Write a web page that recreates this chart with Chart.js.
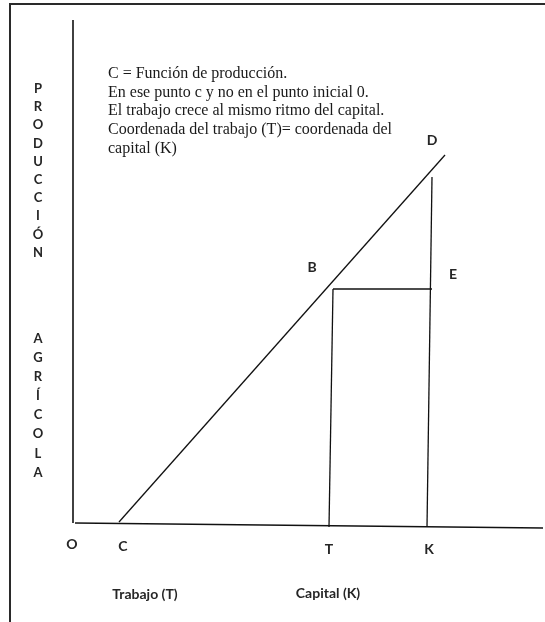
<!DOCTYPE html>
<html>
<head>
<meta charset="utf-8">
<script src="https://cdn.jsdelivr.net/npm/chart.js@4/dist/chart.umd.min.js"></script>
<style>
  html, body { margin: 0; padding: 0; background: #fff; }
  #wrap { position: relative; width: 545px; height: 622px; overflow: hidden; }
  #frame { position: absolute; left: 9px; top: 3px; width: 600px; height: 700px;
           border-top: 2px solid #2a2a2a; border-left: 2px solid #2a2a2a; }
  canvas { position: absolute; left: 0; top: 0; }
  .lbl { position: absolute; transform: translate(-50%, -50%); font-family: Lato, sans-serif;
         font-weight: 700; font-size: 14px; color: #262626; white-space: nowrap; }
  .vert { position: absolute; width: 20px; text-align: center; font-family: Lato, sans-serif;
          font-weight: 700; font-size: 13px; color: #262626; }
  #note { position: absolute; left: 108px; top: 64px; font-family: "Liberation Serif", "Times New Roman", serif;
          font-size: 16px; line-height: 18.7px; color: #1a1a1a; }
</style>
</head>
<body>
<div id="wrap">
  <div id="frame"></div>
  <canvas id="chart" width="545" height="622"></canvas>
  <div id="note">C = Función de producción.<br>En ese punto c y no en el punto inicial 0.<br>El trabajo crece al mismo ritmo del capital.<br>Coordenada del trabajo (T)= coordenada del<br>capital (K)</div>
  <div class="vert" style="left:28px; top:79px; line-height:18.2px;">P<br>R<br>O<br>D<br>U<br>C<br>C<br>I<br>Ó<br>N</div>
  <div class="vert" style="left:28px; top:329px; line-height:19.1px;">A<br>G<br>R<br>Í<br>C<br>O<br>L<br>A</div>
  <div class="lbl" style="left:72px; top:543px;">O</div>
  <div class="lbl" style="left:123px; top:545px;">C</div>
  <div class="lbl" style="left:329px; top:548px;">T</div>
  <div class="lbl" style="left:429px; top:548px;">K</div>
  <div class="lbl" style="left:432px; top:139px;">D</div>
  <div class="lbl" style="left:312px; top:266px;">B</div>
  <div class="lbl" style="left:453px; top:273px;">E</div>
  <div class="lbl" style="left:145px; top:593px;">Trabajo (T)</div>
  <div class="lbl" style="left:328px; top:592px;">Capital (K)</div>
</div>
<script>
// diagram coordinates (1 unit ~ 10px), origin where the axes meet
const axisY = [{x: 0, y: 0}, {x: 0, y: 50.3}];
const axisX = [{x: 0.2, y: 0}, {x: 47.0, y: -0.5}];
const funcionC = [{x: 4.6, y: 0.1}, {x: 37.2, y: 36.8}];   // C -> D
const lineaT = [{x: 25.6, y: -0.4}, {x: 26.0, y: 23.4}];    // T up to B level
const lineaBE = [{x: 26.0, y: 23.4}, {x: 35.9, y: 23.4}];   // B -> E
const lineaK = [{x: 35.4, y: -0.4}, {x: 35.9, y: 34.6}];    // K up to D level

const xRange = [-7.3, 47.2];
const yRange = [-9.9, 52.3];

function seg(data, w) {
    return {
        data: data,
        showLine: true,
        borderColor: "#111",
        borderWidth: w,
        pointRadius: 0,
        fill: false,
    };
}

const ctx = document.getElementById("chart");
new Chart(ctx, {
    type: "scatter",
    data: {
        datasets: [
            seg(axisY, 1.6),
            seg(axisX, 1.6),
            seg(funcionC, 1.3),
            seg(lineaT, 1.3),
            seg(lineaBE, 1.3),
            seg(lineaK, 1.3),
        ]
    },
    options: {
        responsive: false,
        animation: false,
        devicePixelRatio: 1,
        layout: { padding: 0 },
        plugins: { legend: { display: false }, tooltip: { enabled: false } },
        scales: {
            x: { type: "linear", min: xRange[0], max: xRange[1], display: false },
            y: { type: "linear", min: yRange[0], max: yRange[1], display: false }
        }
    }
});
</script>
</body>
</html>
